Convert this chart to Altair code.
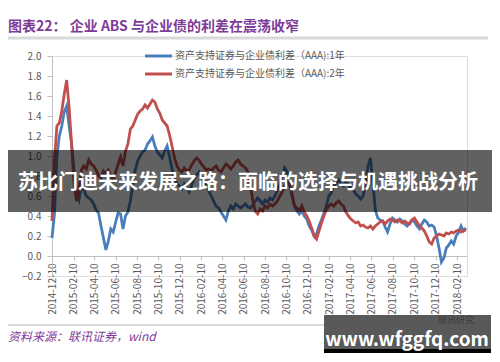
import altair as alt
import pandas as pd

# ---------------- data ----------------
start_date = "2014-12-10"
n_weeks = 170
dates = pd.date_range(start_date, periods=n_weeks, freq="7D").strftime("%Y-%m-%d").tolist()

spread_1y = [
    0.18, 0.42, 1.00, 1.20, 1.30, 1.44, 1.50, 1.30, 1.12, 0.85,
    0.62, 0.56, 0.70, 0.66, 0.60, 0.58, 0.56, 0.52, 0.46, 0.43,
    0.30, 0.18, 0.06, 0.15, 0.27, 0.24, 0.34, 0.43, 0.42, 0.27,
    0.40, 0.44, 0.55, 0.72, 0.86, 0.95, 1.00, 1.04, 1.06, 1.12,
    1.15, 1.19, 1.10, 1.04, 1.01, 0.98, 1.05, 1.10, 0.99, 0.87,
    0.79, 0.72, 0.70, 0.67, 0.72, 0.69, 0.64, 0.71, 0.77, 0.81,
    0.84, 0.79, 0.74, 0.70, 0.65, 0.60, 0.55, 0.50, 0.48, 0.44,
    0.40, 0.36, 0.45, 0.50, 0.47, 0.52, 0.50, 0.48, 0.50, 0.52,
    0.49, 0.48, 0.51, 0.55, 0.58, 0.55, 0.52, 0.56, 0.54, 0.58,
    0.56, 0.60, 0.66, 0.72, 0.80, 0.88, 0.84, 0.72, 0.60, 0.50,
    0.45, 0.42, 0.45, 0.40, 0.37, 0.30, 0.26, 0.20, 0.22, 0.30,
    0.36, 0.43, 0.50, 0.60, 0.63, 0.70, 0.73, 0.76, 0.72, 0.70,
    0.74, 0.71, 0.68, 0.66, 0.62, 0.60, 0.57, 0.60, 0.72, 0.90,
    0.98, 0.74, 0.46, 0.38, 0.36, 0.35, 0.29, 0.24, 0.32, 0.38,
    0.36, 0.34, 0.37, 0.35, 0.32, 0.30, 0.33, 0.36, 0.34, 0.30,
    0.27, 0.32, 0.36, 0.34, 0.30, 0.31, 0.29, 0.20, 0.08, -0.06,
    -0.02, 0.08, 0.11, 0.15, 0.12, 0.20, 0.24, 0.30, 0.25, 0.28,
]

spread_2y = [
    0.35, 0.95, 1.30, 1.33, 1.45, 1.62, 1.76, 1.48, 1.12, 0.72,
    0.55, 0.66, 0.86, 0.90, 0.87, 0.96, 0.92, 0.90, 0.86, 0.80,
    0.78, 0.85, 0.82, 0.86, 0.80, 0.76, 0.84, 0.92, 0.99, 0.90,
    1.05, 1.12, 1.27, 1.30, 1.36, 1.42, 1.45, 1.47, 1.51, 1.48,
    1.52, 1.56, 1.54, 1.47, 1.43, 1.36, 1.33, 1.30, 1.21, 1.10,
    0.98, 0.90, 0.86, 0.84, 0.88, 0.85, 0.86, 0.91, 0.95, 0.98,
    0.96, 0.92, 0.89, 0.86, 0.87, 0.85, 0.88, 0.90, 0.86, 0.84,
    0.88, 0.92, 0.90, 0.87, 0.90, 0.94, 0.96, 0.92, 0.90, 0.88,
    0.84, 0.70, 0.55, 0.45, 0.42, 0.47, 0.45, 0.50, 0.48, 0.52,
    0.50, 0.52, 0.55, 0.60, 0.64, 0.70, 0.76, 0.72, 0.62, 0.50,
    0.48, 0.45, 0.50, 0.44, 0.40, 0.35, 0.28, 0.20, 0.17, 0.25,
    0.33, 0.40, 0.46, 0.50, 0.52, 0.50, 0.53, 0.55, 0.52, 0.50,
    0.44, 0.40, 0.37, 0.35, 0.33, 0.34, 0.30, 0.31, 0.29, 0.28,
    0.30, 0.27, 0.30, 0.32, 0.34, 0.35, 0.32, 0.35, 0.37, 0.36,
    0.34, 0.36, 0.35, 0.33, 0.35, 0.33, 0.32, 0.36, 0.38, 0.34,
    0.30, 0.28, 0.25, 0.20, 0.14, 0.12, 0.18, 0.20, 0.22, 0.21,
    0.20, 0.23, 0.22, 0.24, 0.23, 0.25, 0.26, 0.24, 0.26, 0.25,
]

series_names = ["资产支持证券与企业债利差（AAA):1年", "资产支持证券与企业债利差（AAA):2年"]
series_colors = ["#4A7EBB", "#C0504D"]

tick_dates = [
    "2014-12-10", "2015-02-10", "2015-04-10", "2015-06-10", "2015-08-10",
    "2015-10-10", "2015-12-10", "2016-02-10", "2016-04-10", "2016-06-10",
    "2016-08-10", "2016-10-10", "2016-12-10", "2017-02-10", "2017-04-10",
    "2017-06-10", "2017-08-10", "2017-10-10", "2017-12-10", "2018-02-10",
]
x_domain = ["2014-12-10", "2018-03-10"]
y_ticks = [-0.2, 0.0, 0.2, 0.4, 0.6, 0.8, 1.0, 1.2, 1.4, 1.6, 1.8, 2.0]

title_text = "图表22：  企业 ABS 与企业债的利差在震荡收窄"
banner_text = "苏比门迪未来发展之路：面临的选择与机遇挑战分析"
source_text = "资料来源：联讯证券，wind"
watermark_text = "www.wfggfq.com"

# ---------------- build ----------------
def ms(d):
    return int(pd.Timestamp(d, tz="UTC").value // 10**6)

df = pd.DataFrame({
    "date": dates * 2,
    "value": spread_1y + spread_2y,
    "series": [series_names[0]] * n_weeks + [series_names[1]] * n_weeks,
})

FONT = "Noto Sans CJK SC"
AXIS_GRAY = "#bfbfbf"
LABEL_GRAY = "#595959"
PURPLE = "#7d3c98"

x_enc = alt.X(
    "date:T",
    scale=alt.Scale(type="utc", domain=[ms(d) for d in x_domain]),
    axis=alt.Axis(
        values=[ms(d) for d in tick_dates],
        labelExpr="utcFormat(datum.value, '%Y-%m-%d')",
        labelAngle=270, title=None, grid=False, offset=-20,
        domainColor=AXIS_GRAY, tickColor=AXIS_GRAY, tickSize=4,
        labelColor=LABEL_GRAY, labelFontSize=10, labelPadding=3, labelFont=FONT,
        labelOverlap=False, labelLimit=200,
    ),
)
y_enc = alt.Y(
    "value:Q",
    scale=alt.Scale(domain=[-0.2, 2.0], nice=False, zero=False),
    axis=alt.Axis(
        values=y_ticks, format=".1f", title=None, grid=False,
        domainColor=AXIS_GRAY, tickColor=AXIS_GRAY, tickSize=5,
        labelColor=LABEL_GRAY, labelFontSize=10, labelPadding=6, labelFont=FONT,
    ),
)
color_enc = alt.Color("series:N", scale=alt.Scale(domain=series_names, range=series_colors), legend=None)

base = alt.Chart(df)
line1 = base.transform_filter(alt.datum.series == series_names[0]).mark_line(strokeWidth=2.8).encode(
    x=x_enc, y=y_enc, color=color_enc)
line2 = base.transform_filter(alt.datum.series == series_names[1]).mark_line(strokeWidth=2.8).encode(
    x=x_enc, y=y_enc, color=color_enc)

one = pd.DataFrame({"a": [0]})

def text_layer(txt, x, y, size, color, weight="normal", align="left", style="normal"):
    return alt.Chart(pd.DataFrame({"t": [txt]})).mark_text(
        align=align, baseline="middle", fontSize=size, color=color,
        fontWeight=weight, font=FONT, fontStyle=style,
    ).encode(text="t:N", x=alt.value(x), y=alt.value(y))

def rule_layer(x1, x2, y, color, width):
    return alt.Chart(one).mark_rule(color=color, strokeWidth=width).encode(
        x=alt.value(x1), x2=alt.value(x2), y=alt.value(y))

def rect_layer(x1, x2, y1, y2, color, opacity=1.0):
    return alt.Chart(one).mark_rect(color=color, opacity=opacity).encode(
        x=alt.value(x1), x2=alt.value(x2), y=alt.value(y1), y2=alt.value(y2))

# legend
legend_layers = []
for k, (name, col) in enumerate(zip(series_names, series_colors)):
    yy = 0 + 18 * k
    legend_layers.append(rule_layer(93, 120, yy, col, 3))
    legend_layers.append(text_layer(name, 123, yy, 10, LABEL_GRAY))

title_layer = text_layer(title_text, -44, -29, 14, PURPLE, weight="bold")
top_rule = rule_layer(-44, 436, -18, "#d9d9d9", 3)
bottom_rule = rule_layer(-44, 438, 269, "#d9d9d9", 2)
source_layer = text_layer(source_text, -44, 281, 12, PURPLE, style="italic")

banner_rect = rect_layer(-44, 440, 94, 156, "black", 0.62)
banner_label = text_layer(banner_text, 196, 127, 20, "white", weight="bold", align="center")

wm_rect = rect_layer(272, 439, 259, 297, "#595959", 1.0)
wm_strip = rect_layer(272, 439, 293, 297, "black", 1.0)
wm_faint = text_layer("联讯研究", 404, 264, 9, "#3c3c3c", align="center")
wm_label = text_layer(watermark_text, 355, 284, 19, "white", weight="bold", align="center")

chart = alt.layer(
    line1, line2, *legend_layers, title_layer, top_rule, bottom_rule, source_layer,
    banner_rect, banner_label, wm_rect, wm_strip, wm_faint, wm_label,
).properties(
    width=415, height=220,
    autosize=alt.AutoSizeParams(type="none"),
    padding={"left": 44, "top": 48, "right": 25, "bottom": 78},
).configure_view(stroke=None).configure(font=FONT)

chart.save("out.html", embed_options={"renderer": "svg", "actions": False})
